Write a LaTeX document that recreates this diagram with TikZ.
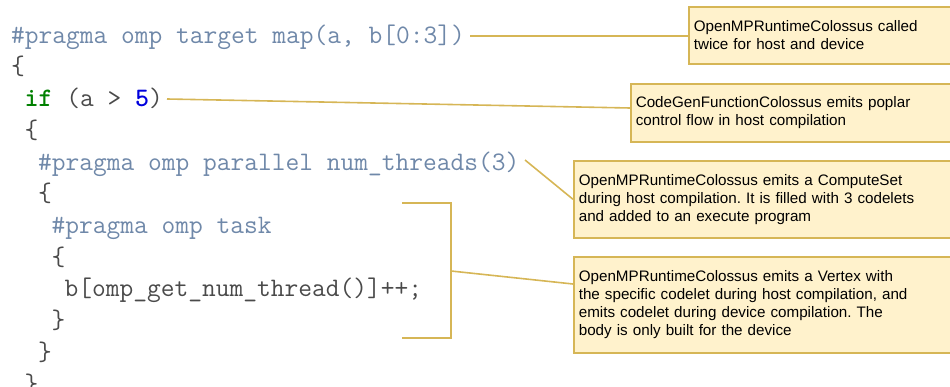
\documentclass[tikz,border=0pt]{standalone}
\usepackage{fontspec}
\setmainfont{Liberation Sans}
\frenchspacing
\definecolor{goldline}{HTML}{D6B656}
\definecolor{notefill}{HTML}{FFF2CC}
\definecolor{pragmac}{HTML}{6F88A9}
\definecolor{codegray}{HTML}{4A4A4A}
\definecolor{kwgreen}{HTML}{008000}
\definecolor{numblue}{HTML}{0000DD}
\begin{document}
\begin{tikzpicture}[x=1pt,y=-1pt,
  codeline/.style={anchor=base west, inner sep=0pt, font=\fontsize{26.7}{30}\selectfont\ttfamily},
  pragma/.style={codeline, text=pragmac},
  plain/.style={codeline, text=codegray},
  note/.style={draw=goldline, fill=notefill, line width=1.6pt, anchor=north west,
    minimum width=420pt, text width=410pt, inner xsep=3.8pt, align=left,
    font=\fontsize{15.2}{18}\selectfont\frenchspacing},
  link/.style={draw=goldline, line width=1.6pt}]
\useasboundingbox (0,0) rectangle (950,387);
\clip (0,0) rectangle (950,387);
% code
\node[pragma] (l1) at (11,43.3) {\#pragma omp target map(a, b[0:3])};
\node[plain]  (l2) at (11,75) {\{};
\node[plain]  (l3) at (24.4,106.7) {\textcolor{kwgreen}{\bfseries if} (a > \textcolor{numblue}{\bfseries 5})};
\node[plain]  (l4) at (24.4,138.4) {\{};
\node[pragma] (l5) at (38,170.1) {\#pragma omp parallel num\_threads(3)};
\node[plain]  (l6) at (38,201.8) {\{};
\node[pragma] (l7) at (51.5,233.5) {\#pragma omp task};
\node[plain]  (l8) at (51.5,265.2) {\{};
\node[plain]  (l9) at (64.5,296.9) {b[omp\_get\_num\_thread()]++;};
\node[plain]  (l10) at (51.5,328.6) {\}};
\node[plain]  (l11) at (38,360.3) {\}};
\node[plain]  (l12) at (24.4,392) {\}};
% notes
\node[note, minimum height=57pt] (b1) at (688,6) {OpenMPRuntimeColossus called\\twice for host and device};
\node[note, minimum height=58pt] (b2) at (630,83) {CodeGenFunctionColossus emits poplar\\control flow in host compilation};
\node[note, minimum height=77pt] (b3) at (573,160) {OpenMPRuntimeColossus emits a ComputeSet\\during host compilation. It is filled with 3 codelets\\and added to an execute program};
\node[note, minimum height=96pt] (b4) at (573,256) {OpenMPRuntimeColossus emits a Vertex with\\the specific codelet during host compilation, and\\emits codelet during device compilation. The\\body is only built for the device};
% connectors
\coordinate (c1) at (470,36);
\draw[link] (c1) -- (c1 -| b1.west);
\coordinate (c2) at (167,99);
\coordinate (e2) at (630,108);
\draw[link] (c2) -- (e2);
\coordinate (c3) at (525,160);
\draw[link] (c3) -- (b3.west);
\coordinate (t1) at (402,203);
\coordinate (t2) at (451,203);
\coordinate (t3) at (451,338);
\coordinate (t4) at (402,338);
\coordinate (tm) at (451,271);
\coordinate (e4) at (573,284);
\draw[link] (t1) -- (t2) -- (t3) -- (t4);
\draw[link] (tm) -- (e4);
\end{tikzpicture}
\end{document}
